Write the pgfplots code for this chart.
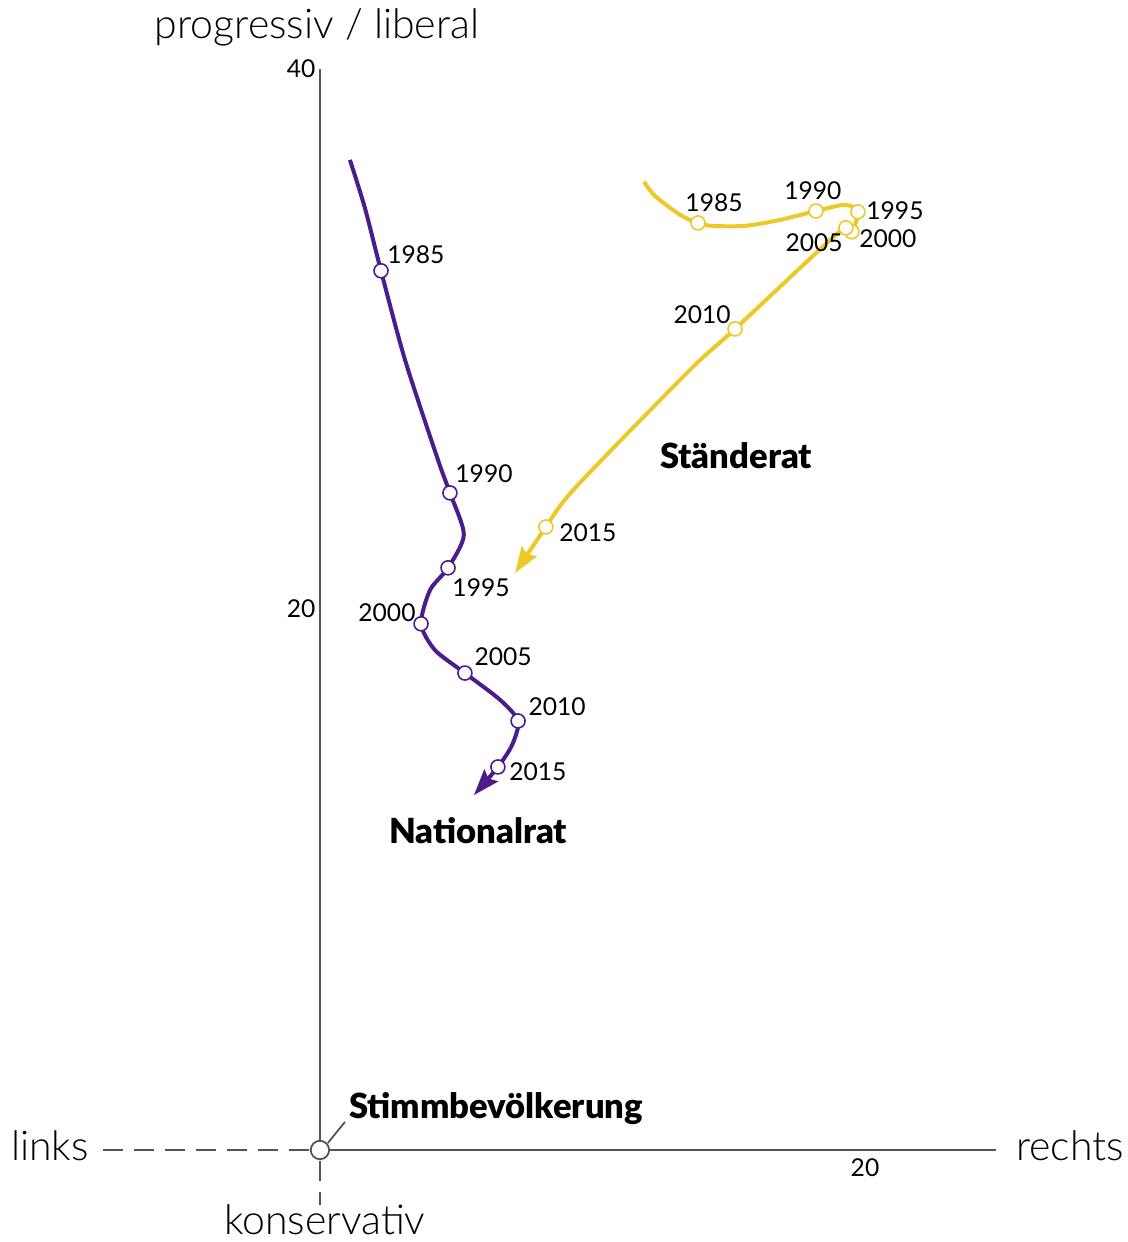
\documentclass[border=0pt]{standalone}
\usepackage{fontspec}
\setmainfont{Lato}[BoldFont={Lato Black}]
\newfontfamily\lightfont{Lato Light}
\usepackage{pgfplots}
\pgfplotsset{compat=1.18}
\usetikzlibrary{arrows.meta}

\definecolor{nrpurple}{HTML}{4B1D8C}
\definecolor{sryellow}{HTML}{ECC928}
\definecolor{axgray}{HTML}{555555}

\begin{document}
\begin{tikzpicture}
\begin{axis}[
    name=main,
    scale only axis,
    width=564pt, height=621pt,
    xmin=-11.74, xmax=29.65,
    ymin=-3.40, ymax=42.51,
    hide axis,
    clip=false,
  ]
  % axes
  \draw[axgray, line width=1pt] (axis cs:0,0) -- (axis cs:24.8,0);
  \draw[axgray, line width=1pt] (axis cs:0,0) -- (axis cs:0,39.95);
  \draw[axgray, line width=1pt, dash pattern=on 10pt off 5.5pt] (axis cs:-0.4,0) -- (axis cs:-8.2,0);
  \draw[axgray, line width=1pt, dash pattern=on 10pt off 5.5pt] (axis cs:0,-0.4) -- (axis cs:0,-2.05);

  % Nationalrat
  \addplot[nrpurple, line width=2pt, smooth, tension=0.45,
      -{Stealth[length=13pt, width=9pt, inset=2pt]}] coordinates {
    (1.10,36.60) (1.65,34.82) (2.24,32.50) (3.12,29.21) (4.33,25.51)
    (4.77,24.29) (5.28,22.74) (4.70,21.52) (4.04,20.70) (3.71,19.45)
    (4.22,18.48) (5.32,17.63) (6.61,16.64) (7.27,15.86) (7.05,14.97)
    (6.53,14.16) (5.65,13.12)
  };
  % Staenderat
  \addplot[sryellow, line width=2pt, smooth, tension=0.45,
      -{Stealth[length=13pt, width=9pt, inset=2pt]}] coordinates {
    (11.89,35.79) (12.29,35.27) (13.21,34.57) (13.87,34.27) (14.39,34.16)
    (15.60,34.16) (16.88,34.38) (18.20,34.71) (19.27,34.94) (19.74,34.68)
    (19.52,33.94) (19.30,34.09) (18.72,33.64) (15.23,30.35) (13.58,28.84)
    (9.36,24.47) (8.29,23.03) (7.16,21.33)
  };

  % year markers
  \addplot[only marks, mark=*, mark size=3.5pt,
      mark options={draw=nrpurple, fill=white, line width=0.8pt}] coordinates {
    (2.24,32.50) (4.77,24.29) (4.70,21.52) (3.71,19.45)
    (5.32,17.63) (7.27,15.86) (6.53,14.16)
  };
  \addplot[only marks, mark=*, mark size=3.5pt,
      mark options={draw=sryellow, fill=white, line width=0.8pt}] coordinates {
    (13.87,34.27) (18.20,34.71) (19.74,34.68) (19.52,33.94)
    (19.30,34.09) (15.23,30.35) (8.29,23.03)
  };
  % Stimmbevoelkerung
  \addplot[only marks, mark=*, mark size=4.6pt,
      mark options={draw=axgray, fill=white, line width=0.9pt}] coordinates {(0,0)};
  \draw[axgray, line width=0.9pt] (axis cs:0.29,0.26) -- (axis cs:0.92,1.04);

  % year labels
  \begin{scope}[every node/.style={font=\fontsize{12.3}{14}\selectfont, inner sep=0pt}]
    \node at (axis cs:3.52,33.09) {1985};
    \node at (axis cs:6.02,24.99) {1990};
    \node at (axis cs:5.91,20.78) {1995};
    \node at (axis cs:2.46,19.85) {2000};
    \node at (axis cs:6.72,18.23) {2005};
    \node at (axis cs:8.70,16.38) {2010};
    \node at (axis cs:8.00,13.97) {2015};
    \node at (axis cs:14.46,35.01) {1985};
    \node at (axis cs:18.09,35.45) {1990};
    \node at (axis cs:21.10,34.71) {1995};
    \node at (axis cs:18.13,33.53) {2005};
    \node at (axis cs:20.84,33.68) {2000};
    \node at (axis cs:14.02,30.87) {2010};
    \node at (axis cs:9.83,22.81) {2015};
    % ticks
    \node[anchor=east] at (axis cs:-0.15,39.96) {40};
    \node[anchor=east] at (axis cs:-0.15,20.0) {20};
    \node at (axis cs:20.0,-0.67) {20};
  \end{scope}

  % bold labels
  \begin{scope}[every node/.style={font=\bfseries\fontsize{17.3}{20}\selectfont, inner sep=0pt}]
    \node at (axis cs:15.27,25.66) {Ständerat};
    \node at (axis cs:5.80,11.79) {Nationalrat};
    \node at (axis cs:6.46,1.52) {Stimmbevölkerung};
  \end{scope}

  % axis names
  \begin{scope}[every node/.style={font=\lightfont\fontsize{20.5}{24}\selectfont, inner sep=0pt}]
    \node at (axis cs:-0.11,41.48) {progressiv / liberal};
    \node at (axis cs:-9.91,0.17) {links};
    \node at (axis cs:27.52,0.15) {rechts};
    \node at (axis cs:0.18,-2.58) {konservativ};
  \end{scope}
\end{axis}
\pgfresetboundingbox
\path (main.south west) rectangle (main.north east);
\end{tikzpicture}
\end{document}
